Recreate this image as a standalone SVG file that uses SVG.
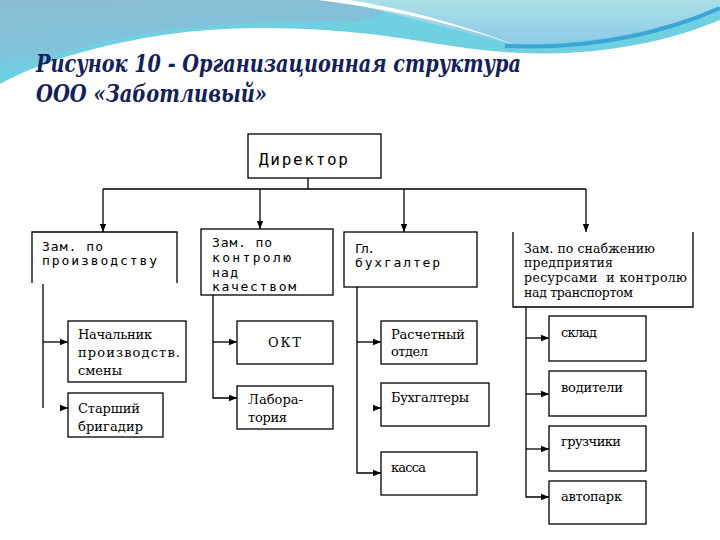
<svg xmlns="http://www.w3.org/2000/svg" width="720" height="540" viewBox="0 0 720 540">
<defs>
<linearGradient id="gL" x1="0" y1="0" x2="0.3" y2="1">
<stop offset="0" stop-color="#8bbcd4"/>
<stop offset="0.6" stop-color="#80c4da"/>
<stop offset="1" stop-color="#5fd4e6"/>
</linearGradient>
<linearGradient id="gR" x1="0" y1="0" x2="0" y2="1">
<stop offset="0" stop-color="#a9e0e6"/>
<stop offset="1" stop-color="#8fcbe8"/>
</linearGradient>
<marker id="ar" markerUnits="userSpaceOnUse" markerWidth="8" markerHeight="8" refX="8" refY="4" orient="auto">
<path d="M0,0.8 L8,4 L0,7.2 Z" fill="#000"/>
</marker>
<style>
.box{fill:#fff;stroke:#000;stroke-width:1.3}
.open{fill:none;stroke:#000;stroke-width:1.3}
.ln{fill:none;stroke:#000;stroke-width:1.3}
.mono{font-family:"DejaVu Sans Mono","Liberation Mono",monospace;font-size:13px;fill:#000}
.dir{font-family:"DejaVu Sans Mono","Liberation Mono",monospace;font-size:16px;fill:#000}
.ser{font-family:"DejaVu Serif","Liberation Serif",serif;font-size:13px;fill:#000}
.ser13{font-family:"DejaVu Serif","Liberation Serif",serif;font-size:12.5px;fill:#000}
.title{font-family:"DejaVu Serif","Liberation Serif",serif;font-size:24px;font-weight:bold;font-style:italic;fill:#14205a}
</style>
</defs>
<rect width="720" height="540" fill="#fff"/>
<g id="header">
<path d="M0,0 H720 V20 C660,45 590,56 520,53 C470,51 420,40 370,34 C300,26 230,26 170,34 C100,44 40,62 0,84 Z" fill="#6fd0e2"/>
<path d="M0,0 H400 C390,10 375,18 360,22 C300,20 220,22 150,33 C90,43 40,58 0,80 Z" fill="url(#gL)"/>
<path d="M330,0 H720 V8 C660,30 590,45 512,44 C450,30 395,12 330,0 Z" fill="url(#gR)"/>
<path d="M318,0 C400,10 460,26 515,45 C455,22 400,8 350,0 Z" fill="#ffffff"/>
<path d="M505,46 C600,50 670,30 720,8" fill="none" stroke="#3ba6d6" stroke-width="4"/>
</g>
<g id="title">
<text class="title" x="36" y="72" textLength="485" lengthAdjust="spacingAndGlyphs">Рисунок 10 - Организационная структура</text>
<text class="title" x="36" y="102" textLength="231" lengthAdjust="spacingAndGlyphs">ООО «Заботливый»</text>
</g>
<g id="connectors">
<path class="ln" d="M308,178 V189 M103,189 H586"/>
<path class="ln" d="M103,189 V232" marker-end="url(#ar)"/>
<path class="ln" d="M260,189 V229" marker-end="url(#ar)"/>
<path class="ln" d="M404,189 V232" marker-end="url(#ar)"/>
<path class="ln" d="M586,189 V232" marker-end="url(#ar)"/>
<path class="ln" d="M43,284 V408"/>
<path class="ln" d="M43,342 H68" marker-end="url(#ar)"/>
<path class="ln" d="M60,408 H68" marker-end="url(#ar)"/>
<path class="ln" d="M213,295 V398 H237" marker-end="url(#ar)"/>
<path class="ln" d="M213,342 H237" marker-end="url(#ar)"/>
<path class="ln" d="M357,287 V473 H381" marker-end="url(#ar)"/>
<path class="ln" d="M357,342 H381" marker-end="url(#ar)"/>
<path class="ln" d="M373,408 H381" marker-end="url(#ar)"/>
<path class="ln" d="M526,307 V497 H549" marker-end="url(#ar)"/>
<path class="ln" d="M526,338 H549" marker-end="url(#ar)"/>
<path class="ln" d="M526,394 H549" marker-end="url(#ar)"/>
<path class="ln" d="M526,449 H549" marker-end="url(#ar)"/>
</g>
<g id="director">
<rect class="box" x="248" y="134" width="133" height="44"/>
<text class="dir" x="259" y="165" textLength="89">Директор</text>
</g>
<g id="dep-production">
<path class="open" d="M32,283 V232 H177 V283"/>
<text class="mono" x="42" y="251" textLength="61">Зам. по</text>
<text class="mono" x="42" y="265" textLength="115">производству</text>
</g>
<g id="dep-quality">
<rect class="box" x="201" y="229" width="132" height="66"/>
<text class="mono" x="212" y="247" textLength="60">Зам. по</text>
<text class="mono" x="212" y="262" textLength="79">контролю</text>
<text class="mono" x="212" y="277" textLength="26">над</text>
<text class="mono" x="212" y="291" textLength="84">качеством</text>
</g>
<g id="chief-accountant">
<rect class="box" x="344" y="232" width="133" height="55"/>
<text class="mono" x="355" y="253" textLength="20">Гл.</text>
<text class="mono" x="355" y="267" textLength="85">бухгалтер</text>
</g>
<g id="dep-supply">
<path class="open" d="M513,232 V307 H693 V232"/>
<text class="ser13" x="524" y="253" textLength="131">Зам. по снабжению</text>
<text class="ser13" x="524" y="267" textLength="89">предприятия</text>
<text class="ser13" x="524" y="282" textLength="163" xml:space="preserve">ресурсами  и контролю</text>
<text class="ser13" x="524" y="297" textLength="109">над транспортом</text>
</g>
<g id="shift-chief">
<rect class="box" x="68" y="321" width="118" height="61"/>
<text class="ser" x="78" y="339" textLength="74">Начальник</text>
<text class="ser" x="78" y="357" textLength="102">производств.</text>
<text class="ser" x="78" y="375" textLength="44">смены</text>
</g>
<g id="foreman">
<rect class="box" x="68" y="393" width="95" height="44"/>
<text class="ser" x="78" y="413" textLength="62">Старший</text>
<text class="ser" x="78" y="431" textLength="65">бригадир</text>
</g>
<g id="okt">
<rect class="box" x="237" y="321" width="96" height="43"/>
<text class="ser" x="268" y="347" textLength="33">ОКТ</text>
</g>
<g id="lab">
<rect class="box" x="237" y="386" width="96" height="43"/>
<text class="ser" x="248" y="404" textLength="55">Лабора-</text>
<text class="ser" x="248" y="422" textLength="39">тория</text>
</g>
<g id="settlement">
<rect class="box" x="381" y="321" width="96" height="43"/>
<text class="ser" x="391" y="339" textLength="74">Расчетный</text>
<text class="ser" x="391" y="356" textLength="37">отдел</text>
</g>
<g id="accountants">
<rect class="box" x="381" y="383" width="108" height="43"/>
<text class="ser" x="391" y="402" textLength="78">Бухгалтеры</text>
</g>
<g id="cash">
<rect class="box" x="381" y="452" width="96" height="43"/>
<text class="ser" x="391" y="472" textLength="35">касса</text>
</g>
<g id="warehouse">
<rect class="box" x="549" y="316" width="97" height="45"/>
<text class="ser" x="561" y="337" textLength="36">склад</text>
</g>
<g id="drivers">
<rect class="box" x="549" y="371" width="97" height="45"/>
<text class="ser" x="561" y="392" textLength="62">водители</text>
</g>
<g id="loaders">
<rect class="box" x="549" y="426" width="97" height="45"/>
<text class="ser" x="561" y="446" textLength="60">грузчики</text>
</g>
<g id="fleet">
<rect class="box" x="549" y="481" width="97" height="43"/>
<text class="ser" x="561" y="501" textLength="61">автопарк</text>
</g>
</svg>
